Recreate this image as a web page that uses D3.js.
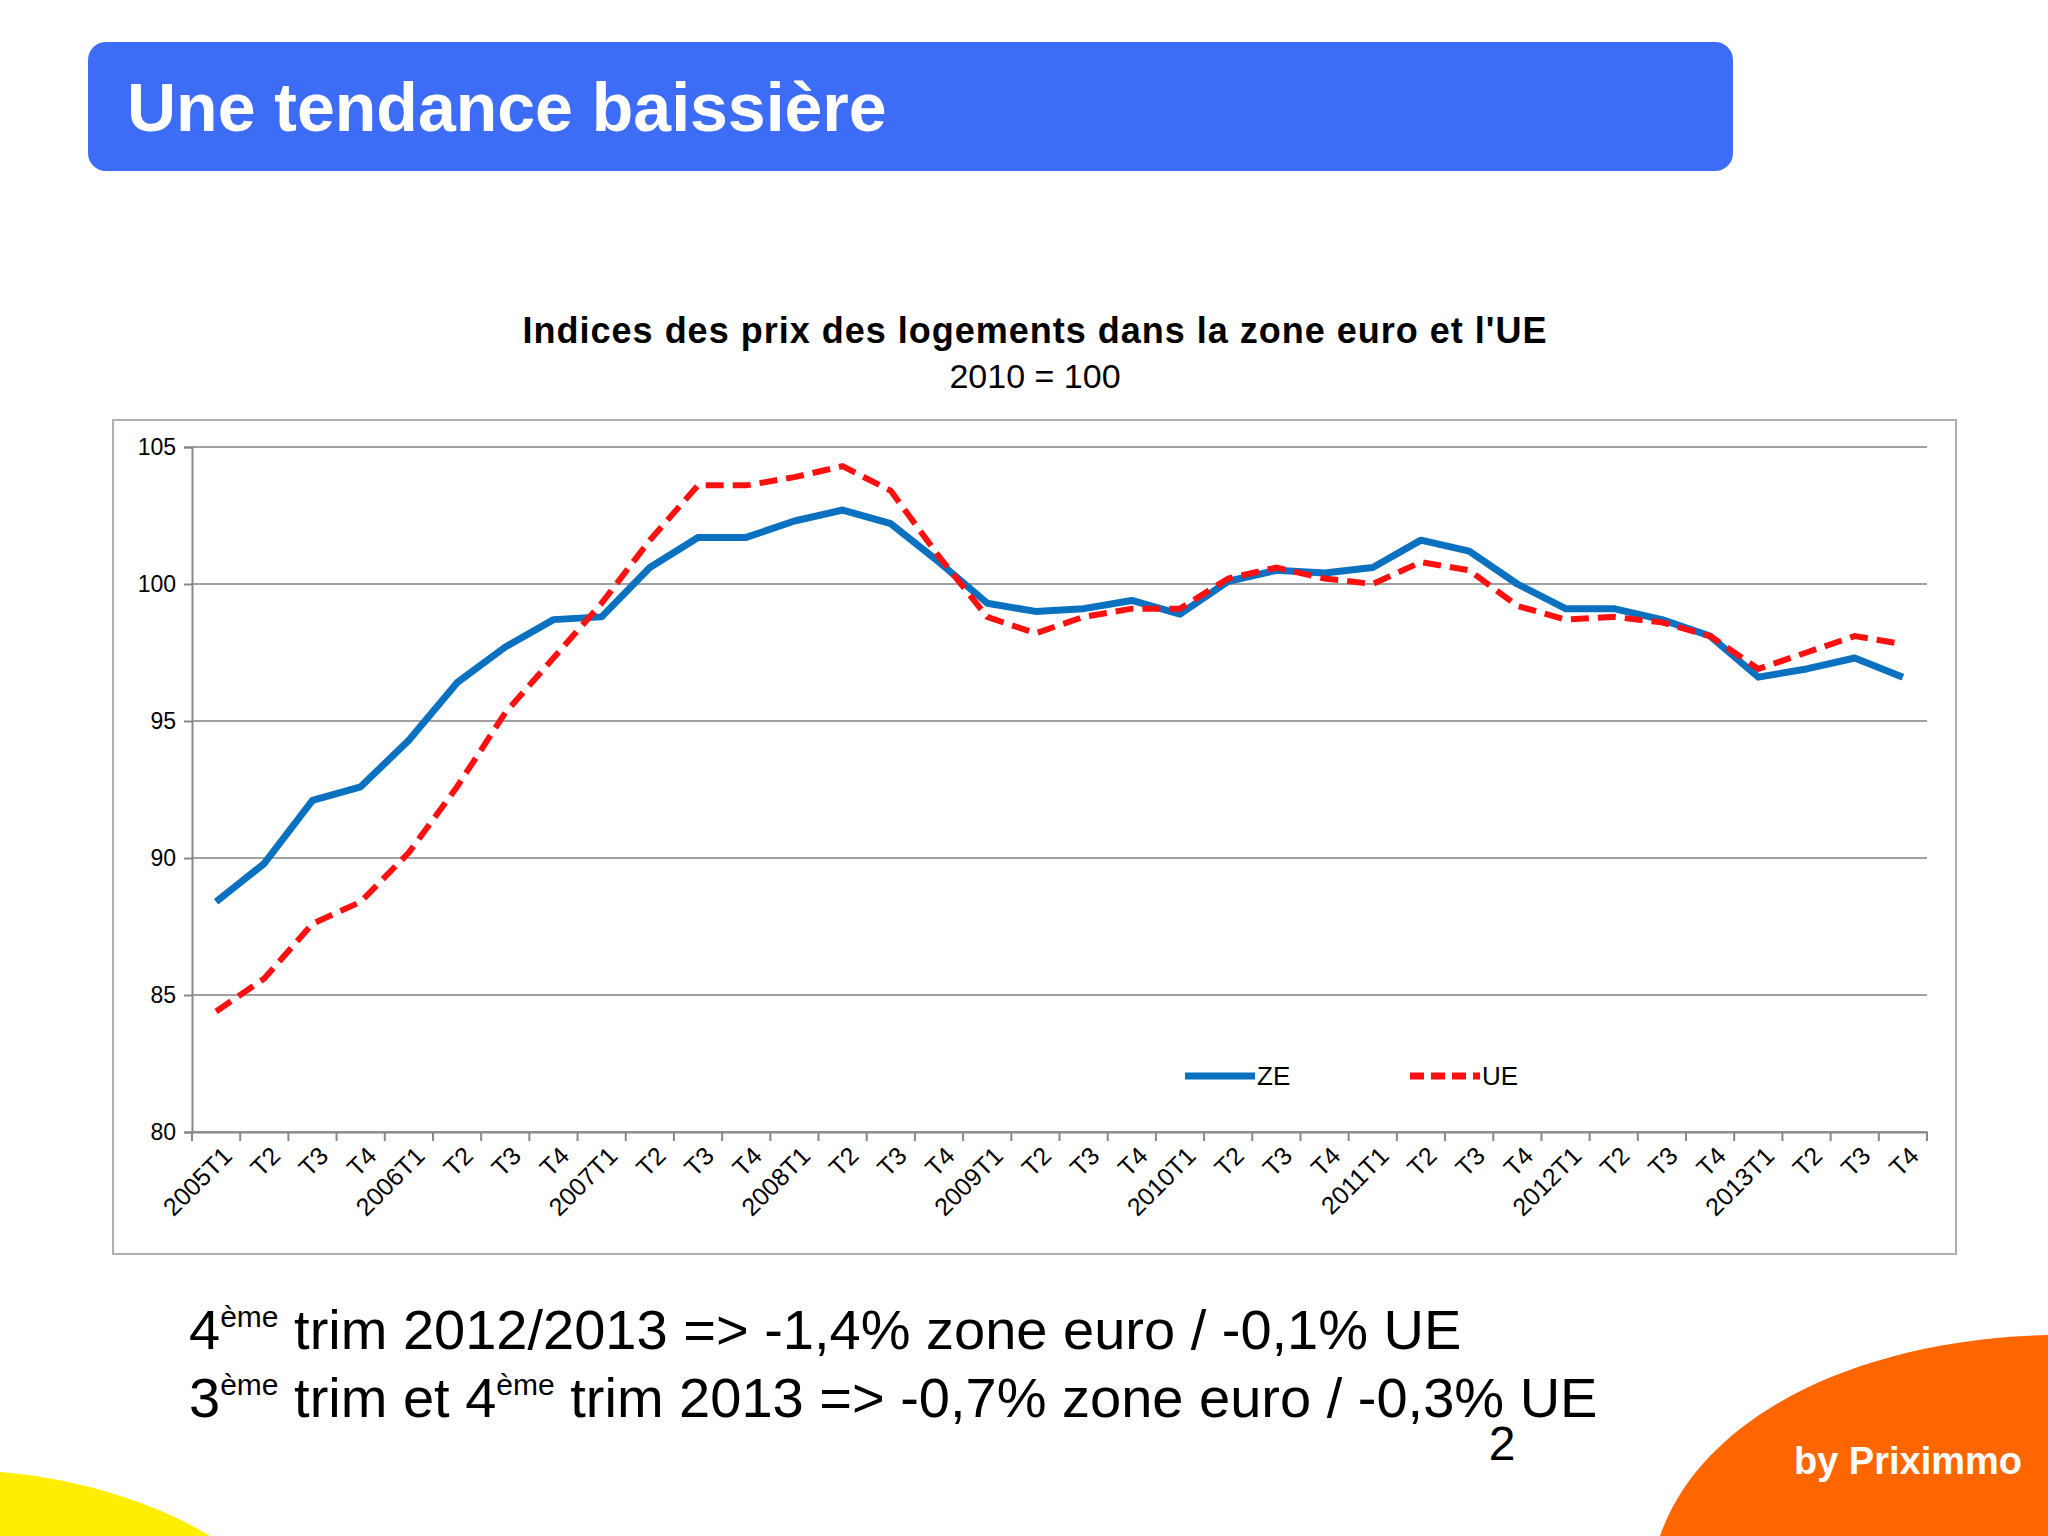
<!DOCTYPE html>
<html><head><meta charset="utf-8">
<script src="https://cdn.jsdelivr.net/npm/d3@7"></script>
<style>body{margin:0;background:#fff}svg{display:block}</style>
</head><body>
<svg id="c" width="2048" height="1536"></svg>
<script>
// quarter labels
const years = ['2005', '2006', '2007', '2008', '2009', '2010', '2011', '2012', '2013'];
const quarters = years.flatMap(y => [y + 'T1', 'T2', 'T3', 'T4']);
const keys = quarters.map((q, i) => i);

// zone euro
const ze = [88.4, 89.8, 92.1, 92.6, 94.3, 96.4, 97.7, 98.7, 98.8, 100.6, 101.7, 101.7,
  102.3, 102.7, 102.2, 100.8, 99.3, 99.0, 99.1, 99.4, 98.9, 100.1, 100.5, 100.4,
  100.6, 101.6, 101.2, 100.0, 99.1, 99.1, 98.7, 98.1, 96.6, 96.9, 97.3, 96.6];
// UE
const ue = [84.4, 85.6, 87.6, 88.4, 90.2, 92.6, 95.3, 97.3, 99.3, 101.6, 103.6, 103.6,
  103.9, 104.3, 103.4, 101.0, 98.8, 98.2, 98.8, 99.1, 99.1, 100.2, 100.6, 100.2,
  100.0, 100.8, 100.5, 99.2, 98.7, 98.8, 98.6, 98.1, 96.9, 97.5, 98.1, 97.8];
const yTicks = [80, 85, 90, 95, 100, 105];

const svg = d3.select('#c');

// decorative corners
svg.append('path').attr('d', 'M1660,1536 C1700,1420 1850,1340 2048,1335 L2048,1536 Z').attr('fill', '#ff6600');
svg.append('path').attr('d', 'M0,1472 C80,1478 160,1505 210,1536 L0,1536 Z').attr('fill', '#ffee00');

// header
svg.append('rect').attr('x', 88).attr('y', 42).attr('width', 1645).attr('height', 129)
  .attr('rx', 18).attr('fill', '#3d6df7');
svg.append('text').attr('x', 127).attr('y', 131).attr('fill', '#fff')
  .attr('font-family', 'Liberation Sans, Arial').attr('font-weight', 'bold').attr('font-size', 68)
  .text('Une tendance baissière');

// chart frame
svg.append('rect').attr('x', 113).attr('y', 420).attr('width', 1843).attr('height', 834)
  .attr('fill', '#fff').attr('stroke', '#b0b0b0').attr('stroke-width', 2);

svg.append('text').attr('x', 1035).attr('y', 343).attr('text-anchor', 'middle')
  .attr('font-family', 'Liberation Sans, Arial').attr('font-weight', 'bold').attr('font-size', 36)
  .attr('letter-spacing', 1)
  .text("Indices des prix des logements dans la zone euro et l'UE");
svg.append('text').attr('x', 1035).attr('y', 388).attr('text-anchor', 'middle')
  .attr('font-family', 'Liberation Sans, Arial').attr('font-size', 34)
  .text('2010 = 100');

const m = {l: 192, r: 1927, t: 447, b: 1132};
const x = d3.scaleBand().domain(keys).range([m.l, m.r]);
const y = d3.scaleLinear().domain([80, 105]).range([m.b, m.t]);

const g = svg.append('g');
g.selectAll('.grid').data(yTicks).enter().append('line')
  .attr('x1', m.l).attr('x2', m.r).attr('y1', d => y(d)).attr('y2', d => y(d))
  .attr('stroke', '#a0a0a0').attr('stroke-width', 2);

const yAxis = g.append('g').attr('transform', `translate(${m.l},0)`)
  .call(d3.axisLeft(y).tickValues(yTicks).tickSize(8).tickPadding(8));
yAxis.select('.domain').attr('stroke', '#888').attr('stroke-width', 2);
yAxis.selectAll('line').attr('stroke', '#888').attr('stroke-width', 2);
yAxis.selectAll('text').attr('font-family', 'Liberation Sans, Arial').attr('font-size', 23).attr('fill', '#000');

const xAxis = g.append('g').attr('transform', `translate(0,${m.b})`)
  .call(d3.axisBottom(x).tickFormat(i => quarters[i]).tickSize(0).tickPadding(10));
xAxis.select('.domain').attr('stroke', '#888').attr('stroke-width', 2);
xAxis.selectAll('text').attr('font-family', 'Liberation Sans, Arial').attr('font-size', 25).attr('fill', '#000')
  .attr('text-anchor', 'end').attr('transform', 'translate(-2,6) rotate(-45)').attr('dy', '0.7em');
// ticks between categories
xAxis.selectAll('.sep').data(d3.range(keys.length + 1)).enter().append('line')
  .attr('x1', i => m.l + i * x.step()).attr('x2', i => m.l + i * x.step())
  .attr('y1', 0).attr('y2', 9).attr('stroke', '#888').attr('stroke-width', 2);

const line = d3.line().x((d, i) => x(i) + x.bandwidth() / 2).y(d => y(d));
g.append('path').datum(ze).attr('d', line).attr('fill', 'none')
  .attr('stroke', '#0a70c0').attr('stroke-width', 7).attr('stroke-linejoin', 'round');
g.append('path').datum(ue).attr('d', line).attr('fill', 'none')
  .attr('stroke', '#ff1010').attr('stroke-width', 6).attr('stroke-dasharray', '18,9');

// legend
const leg = [{n: 'ZE', c: '#0a70c0', d: null, x: 1185}, {n: 'UE', c: '#ff1010', d: '14,7', x: 1410}];
leg.forEach(l => {
  svg.append('line').attr('x1', l.x).attr('x2', l.x + 70).attr('y1', 1076).attr('y2', 1076)
    .attr('stroke', l.c).attr('stroke-width', 7).attr('stroke-dasharray', l.d);
  svg.append('text').attr('x', l.x + 72).attr('y', 1085).attr('font-family', 'Liberation Sans, Arial')
    .attr('font-size', 26).text(l.n);
});

// comments
const notes = [
  [['4', ''], ['ème', 'sup'], [' trim 2012/2013 => -1,4% zone euro / -0,1% UE', '']],
  [['3', ''], ['ème', 'sup'], [' trim et 4', ''], ['ème', 'sup'], [' trim 2013 => -0,7% zone euro / -0,3% UE', '']]
];
notes.forEach((parts, k) => {
  const t = svg.append('text').attr('x', 189).attr('y', 1349 + k * 68)
    .attr('font-family', 'Liberation Sans, Arial').attr('font-size', 56);
  parts.forEach(p => {
    const s = t.append('tspan').text(p[0]);
    if (p[1] === 'sup') s.attr('font-size', 30).attr('dy', -22);
    else if (p !== parts[0]) s.attr('dy', 22);
  });
});
svg.append('text').attr('x', 1502).attr('y', 1460).attr('text-anchor', 'middle')
  .attr('font-family', 'Liberation Sans, Arial').attr('font-size', 48).text('2');
svg.append('text').attr('x', 2022).attr('y', 1474).attr('text-anchor', 'end').attr('fill', '#fff')
  .attr('font-family', 'Liberation Sans, Arial').attr('font-weight', 'bold').attr('font-size', 38)
  .text('by Priximmo');
</script>
</body></html>
